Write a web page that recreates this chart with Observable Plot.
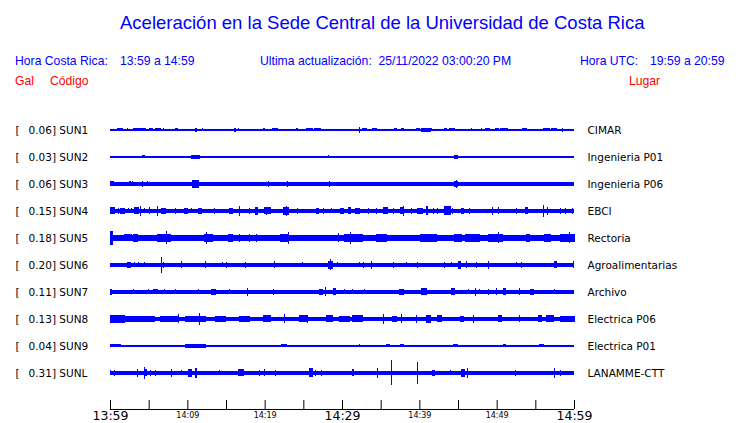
<!DOCTYPE html>
<html><head><meta charset="utf-8">
<script src="https://cdn.jsdelivr.net/npm/d3@7"></script>
<script src="https://cdn.jsdelivr.net/npm/@observablehq/plot@0.6"></script>
<style>
html,body{margin:0;padding:0;background:#fff;}
body{width:740px;height:423px;position:relative;overflow:hidden;font-family:"Liberation Sans",Arial,sans-serif;}
.t{position:absolute;white-space:pre;}
#chart{position:absolute;left:0;top:100px;}
</style></head><body>
<div id="header"></div>
<div id="chart"></div>
<script>
// ---- text content ----
const title = "Aceleración en la Sede Central de la Universidad de Costa Rica";
const infoLabels = ["Hora Costa Rica:", "13:59 a 14:59", "Ultima actualización:  25/11/2022 03:00:20 PM", "Hora UTC:", "19:59 a 20:59"];
const columnHeads = ["Gal", "Código", "Lugar"];

// ---- stations ----
const codes  = ["SUN1","SUN2","SUN3","SUN4","SUN5","SUN6","SUN7","SUN8","SUN9","SUNL"];
const places = ["CIMAR","Ingenieria P01","Ingenieria P06","EBCI","Rectoria","Agroalimentarias","Archivo","Electrica P06","Electrica P01","LANAMME-CTT"];
const gal    = ["0.06","0.03","0.06","0.15","0.18","0.20","0.11","0.13","0.04","0.31"];
// background (noise) amplitude of each trace, relative units
const baseAmp = [0.6, 0.6, 1.8, 1.8, 2.6, 1.7, 1.7, 2.4, 0.6, 1.8];

// ---- time axis (minutes after 13:59) ----
const axisTicks = [0,5,10,15,20,25,30,35,40,45,50,55,60];
const majorTimes = [0,30,60];
const majorLabels = ["13:59","14:29","14:59"];
const minorTimes = [10,20,40,50];
const minorLabels = ["14:09","14:19","14:39","14:49"];

// ---- envelope events per trace: [start min, end min, amplitude] ----
const sun1 = [[1.0,1.6,1.5],[2.2,2.2,1.5],[3.1,3.5,1.5],[3.7,4.6,1.5],[5.1,5.5,1.5],[5.9,6.5,1.5],[6.9,6.9,1.5],[8.5,8.7,1.5],[10.2,10.2,1],[11.0,11.2,2],[11.9,11.9,1.5],[15.7,15.7,1],[16.1,16.2,2],[16.6,16.6,1.5],[17.7,17.7,1],[19.8,20.0,1.5],[21.0,21.7,1.5],[22.8,22.8,1],[24.1,24.3,1.5],[25.4,26.2,1.5],[26.5,27.2,1.5],[27.8,27.8,1],[30.3,30.3,1],[31.1,31.1,1],[31.5,31.5,1],[32.3,32.3,3],[32.6,33.2,1.5],[33.7,33.7,1],[34.0,34.4,1.5],[35.5,35.5,1],[36.8,37.1,1.5],[37.7,38.0,1.5],[39.6,40.0,1.5],[40.3,41.4,2],[41.6,41.6,1.5],[43.2,43.5,1.5],[43.9,44.5,1.5],[46.8,46.8,1.5],[47.5,47.5,1],[48.1,48.1,1.5],[48.6,49.1,1.5],[49.5,49.5,1],[49.9,50.2,1.5],[50.5,51.4,1.5],[52.8,52.8,1],[53.4,53.8,1.5],[55.0,55.0,1],[55.6,55.6,1],[56.1,56.8,1.5],[57.1,57.8,1.5],[58.5,58.5,2]];
const sun2 = [[0.1,0.1,1],[2.0,2.0,1],[4.2,4.4,1.5],[5.0,5.0,1],[10.2,10.2,1],[10.6,11.6,1.8],[20.5,20.5,1],[21.4,21.4,1],[24.9,24.9,1],[25.5,25.5,1],[28.3,28.3,1.5],[44.6,44.9,1.8],[45.8,45.8,1.2],[46.3,46.3,1],[56.7,56.7,1]];
const sun3 = [[0.0,0.4,2.5],[2.5,2.6,2.5],[2.9,2.9,2.5],[4.2,4.2,2.6],[4.8,4.8,2.5],[10.7,11.5,3.6],[15.9,15.9,2.2],[20.5,20.5,2.8],[23.0,23.0,2.8],[28.4,28.4,2.8],[39.7,39.7,2.2],[44.6,44.9,3],[44.8,44.8,3.6]];
const sun4 = [[0.1,0.6,3.5],[1.1,1.1,3],[1.4,1.9,3],[2.4,2.4,2.5],[2.8,2.8,2.5],[3.2,3.7,3.5],[4.0,4.0,5],[4.4,4.4,2.5],[5.1,5.1,3.5],[6.2,6.2,5.3],[6.7,7.2,3],[8.5,8.5,3],[9.6,10.0,3],[10.5,10.5,2.5],[11.4,11.8,3],[13.5,13.5,3],[15.4,15.9,3],[16.7,16.7,5],[18.0,18.0,3],[18.8,19.1,4],[20.0,20.7,3.5],[20.3,20.3,4.2],[22.4,23.1,4],[22.8,22.8,4.7],[24.3,24.3,3],[26.7,27.0,3],[27.6,27.6,3],[28.7,28.7,2.5],[29.8,30.2,3],[30.8,31.1,3.5],[31.8,32.3,3],[33.4,33.4,3],[34.4,34.4,3],[35.4,35.9,3.5],[36.6,36.6,3],[37.5,37.9,3.5],[38.0,38.0,5.2],[39.0,39.0,3],[39.7,40.4,3],[40.9,41.0,4.5],[41.8,41.8,3],[42.3,42.3,3],[43.3,44.0,4.5],[44.3,44.3,3],[45.5,45.7,3],[46.5,46.5,3],[49.4,49.4,4],[50.2,50.2,3.5],[52.6,52.6,3],[53.7,54.0,3.5],[56.0,56.0,6],[56.6,56.6,4],[58.3,58.3,3],[58.9,58.9,3],[59.8,59.8,3]];
const sun5 = [[0.0,0.3,7],[0.3,1.9,3.2],[1.9,2.8,3.5],[3.0,3.6,3.6],[3.9,5.2,3.1],[6.2,7.8,3.8],[7.3,7.3,6.5],[8.0,9.1,3.1],[9.7,11.6,3.0],[12.2,13.2,3.8],[12.5,12.5,6],[13.6,15.3,3.1],[15.3,15.8,3.6],[16.8,16.8,4],[18.0,18.0,4],[19.0,19.0,4],[19.8,20.7,3.1],[22.1,23.0,3.6],[23.1,23.1,6],[23.5,25.2,3.0],[25.6,26.2,3.2],[27.2,29.1,3.0],[29.6,29.6,4.5],[30.3,32.7,3.6],[31.1,31.1,6],[33.0,34.3,3.1],[34.4,35.7,4.0],[35.7,37.5,3.1],[37.5,39.8,3.0],[40.1,42.2,3.6],[42.4,44.2,3.1],[44.6,45.5,3.6],[46.0,47.8,3.6],[48.9,50.7,3.8],[50.3,50.3,5.5],[51.1,53.0,3.1],[53.9,54.3,4.4],[55.0,56.2,3.0],[56.2,56.9,3.6],[58.2,60.0,3.6],[59.4,59.4,5.5]];
const sun6 = [[0.0,0.6,2.3],[2.2,2.6,3],[3.2,3.2,2.5],[3.7,3.7,2.5],[4.5,4.5,2.5],[6.6,6.6,8],[6.9,6.9,3],[9.3,9.3,3.5],[12.3,12.3,3.5],[13.6,14.0,2.3],[14.6,14.6,2.5],[15.0,15.0,3],[17.5,17.5,3],[21.3,21.3,3.5],[24.9,24.9,2.5],[28.3,28.8,4],[28.5,28.5,5.5],[29.4,29.4,2.5],[32.3,32.3,2.5],[32.8,32.8,3],[33.8,33.8,4],[36.7,36.7,3],[38.3,38.3,2.5],[39.7,39.7,3],[43.2,43.2,3],[44.2,44.2,2.5],[45.1,45.3,4],[46.1,46.1,3.5],[47.4,47.4,3],[49.0,49.0,4],[52.6,52.6,2.5],[53.2,53.2,3],[57.5,57.8,3.5],[59.9,59.9,3.5]];
const sun7 = [[0.0,0.2,3],[3.0,3.0,2.5],[5.0,5.0,2.5],[5.6,6.2,2.5],[7.0,7.0,2.5],[8.5,8.5,2.5],[11.5,11.5,2.5],[13.1,13.6,3],[15.4,15.4,2.5],[17.8,17.8,4],[21.2,21.2,3],[23.9,23.9,2.3],[26.2,26.2,2.3],[27.1,27.5,3],[27.9,27.9,4.5],[28.9,29.1,3.5],[30.3,30.3,2.5],[31.3,31.3,2.5],[32.9,32.9,2.5],[34.4,34.4,2.3],[37.4,37.9,3],[39.9,39.9,2.3],[40.3,40.9,3.5],[42.6,42.6,2.3],[44.2,44.6,3.5],[46.4,46.4,2.5],[47.3,47.3,4],[47.8,47.8,2.5],[48.9,48.9,3],[50.0,50.0,3.5],[50.9,51.2,3.5],[53.0,53.0,3.5],[54.4,54.7,3],[55.9,55.9,2.3],[57.5,57.5,2.5]];
const sun8 = [[0.0,1.9,3.8],[1.9,4.1,3.2],[4.1,5.8,3.0],[6.5,6.9,3.2],[7.1,8.8,2.8],[8.9,8.9,4.5],[9.7,12.3,3.3],[11.6,11.6,6],[13.6,14.9,3.0],[16.8,18.1,3.0],[19.8,20.7,3.5],[22.6,22.6,4.5],[24.5,25.4,3.5],[25.6,25.6,4],[28.0,28.8,3.5],[29.7,31.0,3.0],[31.4,32.7,3.5],[35.4,35.4,5],[36.5,37.1,3.2],[37.7,37.7,4.5],[39.6,39.6,4],[40.9,41.4,4],[42.4,42.9,3.5],[45.3,45.7,3.2],[47.0,47.0,4],[50.2,50.6,3.5],[53.0,53.0,3.5],[55.4,55.8,3.5],[56.5,57.3,3.5],[58.2,60.0,3.2]];
const sun9 = [[0.0,1.3,1.5],[1.5,1.9,1.2],[2.2,3.7,1.3],[3.9,5.4,1.3],[5.8,6.2,1.3],[7.1,7.5,1.3],[8.0,9.3,1.3],[9.7,12.3,1.6],[14.9,14.9,1.2],[17.5,17.5,1],[20.0,20.0,1],[20.5,20.7,1.2],[21.3,21.5,1.2],[22.2,22.8,1.5],[23.7,23.7,1],[24.5,24.5,1],[24.9,25.1,1.2],[25.8,25.8,1],[26.6,26.6,1],[28.4,28.4,1],[30.5,30.5,1],[32.3,32.3,1.5],[34.4,34.4,1],[35.8,36.2,1.5],[37.5,37.9,1.5],[40.0,40.5,1.3],[40.9,42.0,1.3],[42.2,42.6,1.3],[43.3,43.5,1.2],[44.4,44.9,1.5],[45.7,46.1,1.2],[47.5,47.5,1],[48.7,48.7,1],[49.8,50.1,1.2],[50.9,51.2,1.5],[52.2,52.2,1],[53.8,53.8,1],[54.3,54.3,1],[55.6,56.0,1.5],[56.5,56.5,1],[57.3,57.8,1.3],[58.2,59.0,1.3]];
const sunl = [[0.0,0.0,2.5],[0.6,0.6,3],[3.5,3.5,4],[4.4,4.7,3.5],[4.5,4.5,6],[5.2,5.2,3],[5.9,5.9,3],[7.9,8.0,4],[9.3,9.3,2.5],[10.2,10.6,4],[11.0,11.2,5],[14.1,14.1,2.5],[16.6,17.2,3.5],[19.3,19.3,3],[20.0,20.0,3.5],[21.4,21.4,3],[25.8,26.2,4.5],[26.6,26.6,3],[27.3,27.3,3],[31.3,31.5,3.5],[34.6,34.6,5],[36.4,36.4,12.5],[39.7,39.7,11],[41.7,42.0,3],[44.0,44.0,2.5],[45.5,45.9,4],[46.2,46.2,5],[52.4,52.4,3],[57.5,57.5,5],[58.2,58.2,3]];

// ---------------- drawing ----------------
const traces = [sun1,sun2,sun3,sun4,sun5,sun6,sun7,sun8,sun9,sunl];
const stationRows = codes.map((c, i) => ({row: i, code: c, place: places[i], gal: gal[i], a: baseAmp[i]}));
const eventRows = traces.flatMap((ev, i) => ev.map(([t0, t1, a]) => ({row: i, t0, t1, a})));

const BLUE = "#0000ff";
const k = 1 / 27;            // amplitude units -> row units
const axisRow = 10.333;      // baseline of time axis (row units)
const tickLen = 9 / 27;
const t0 = 0, t1 = 60;

// header
const header = document.getElementById("header");
function addText(txt, left, top, size, color) {
  const d = document.createElement("div");
  d.className = "t";
  d.textContent = txt;
  d.style.left = left + "px";
  d.style.top = top + "px";
  d.style.fontSize = size + "px";
  d.style.lineHeight = size + "px";
  d.style.color = color;
  header.appendChild(d);
}
addText(title, 120, 13.8, 18.5, BLUE);
[15, 120, 260, 580, 650].forEach((x, i) => addText(infoLabels[i], x, 54.8, 12.2, BLUE));
[15, 50, 629].forEach((x, i) => addText(columnHeads[i], x, 74.8, 12.2, "#ff0000"));

const chart = Plot.plot({
  width: 740,
  height: 323,
  marginLeft: 110,
  marginRight: 166,
  marginTop: 0,
  marginBottom: 0,
  style: {fontFamily: "DejaVu Sans", fontSize: "10.5px", background: "white", color: "black"},
  x: {domain: [t0, t1], axis: null},
  y: {domain: [-1.111, 10.852], reverse: true, axis: null},
  marks: [
    // background noise band of each trace
    Plot.rect(stationRows, {x1: () => t0, x2: () => t1, y1: d => d.row - d.a * k, y2: d => d.row + d.a * k, fill: BLUE, shapeRendering: "crispEdges"}),
    // bursts and spikes
    Plot.rect(eventRows, {x1: "t0", x2: "t1", y1: d => d.row - d.a * k, y2: d => d.row + d.a * k, fill: BLUE, insetLeft: -0.5, insetRight: -0.5, shapeRendering: "crispEdges"}),
    // left labels
    Plot.text(stationRows, {y: "row", frameAnchor: "left", dx: -95, text: () => "[", textAnchor: "start", fill: "black"}),
    Plot.text(stationRows, {y: "row", frameAnchor: "left", dx: -82, text: d => `${d.gal}] ${d.code}`, textAnchor: "start", fill: "black"}),
    // right labels
    Plot.text(stationRows, {y: "row", frameAnchor: "right", dx: 13, text: "place", textAnchor: "start", fill: "black"}),
    // time axis
    Plot.ruleY([axisRow], {y: d => d, x1: () => t0, x2: () => t1, stroke: "black"}),
    Plot.ruleX(axisTicks, {x: d => d, y1: () => axisRow - tickLen, y2: () => axisRow, stroke: "black"}),
    Plot.text(majorTimes, {x: d => d, y: () => axisRow, dy: 2, lineAnchor: "top", text: (d, i) => majorLabels[i], fontSize: 12.5, fill: "black"}),
    Plot.text(minorTimes, {x: d => d, y: () => axisRow, dy: 3, lineAnchor: "top", text: (d, i) => minorLabels[i], fontSize: 8, fill: "black"})
  ]
});
document.getElementById("chart").appendChild(chart);
</script>
</body></html>
